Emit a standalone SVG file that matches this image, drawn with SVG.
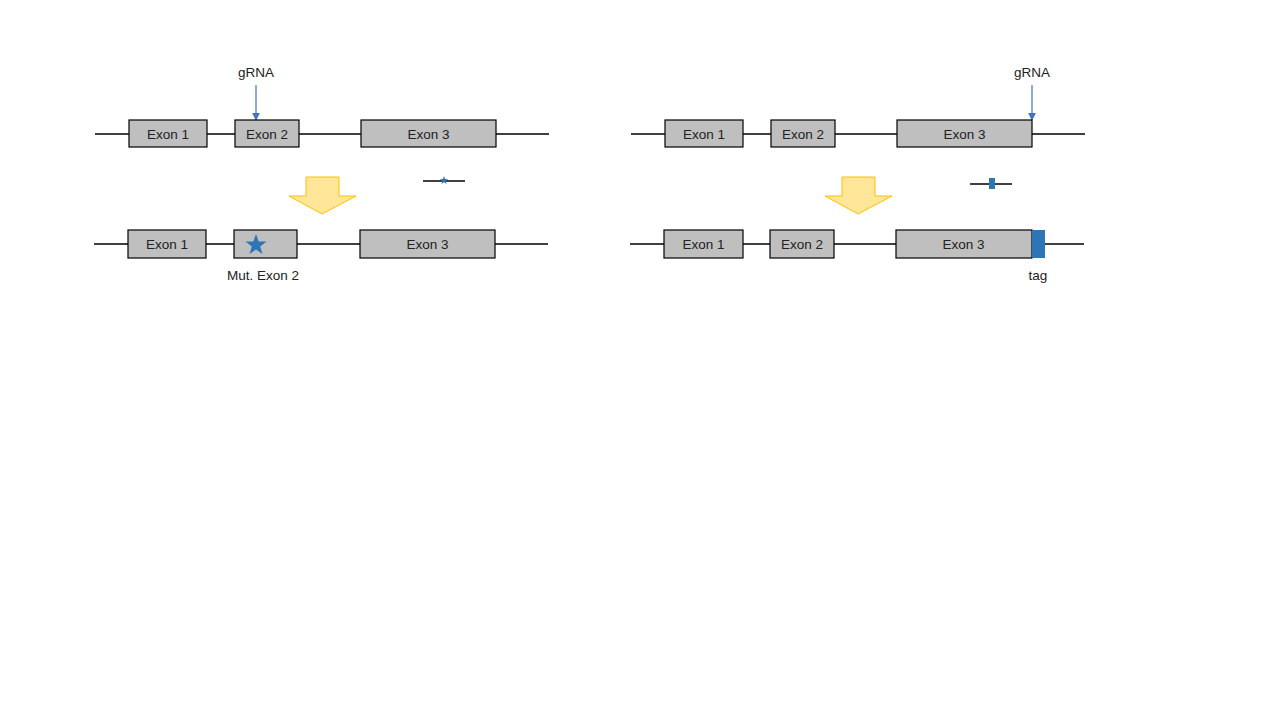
<svg xmlns="http://www.w3.org/2000/svg" width="1280" height="720" viewBox="0 0 1280 720">
<defs>
<style>
.line{stroke:#000;stroke-width:1.3;fill:none}
.exon{fill:#BFBFBF;stroke:#000;stroke-width:1.2}
.lbl{font-family:"Liberation Sans",Arial,sans-serif;font-size:13.5px;fill:#222;text-anchor:middle}
.big{fill:#FFE699;stroke:#FFC000;stroke-width:1}
.blue{fill:#2E75B6}
.g{stroke:#4472C4;stroke-width:1.2}
</style>
<marker id="ah" viewBox="0 0 10 10" refX="9" refY="5" markerWidth="8" markerHeight="8" orient="auto" markerUnits="userSpaceOnUse">
<path d="M0,0 L10,5 L0,10 z" fill="#4472C4"/>
</marker>
<polygon id="star" points="0,-11 2.6,-3.6 10.5,-3.4 4.2,1.4 6.5,9 0,4.5 -6.5,9 -4.2,1.4 -10.5,-3.4 -2.6,-3.6"/>
</defs>
<rect width="1280" height="720" fill="#fff"/>
<g id="connectors">
<line class="line" x1="95" y1="134" x2="549" y2="134"/>
<line class="line" x1="94" y1="244" x2="548" y2="244"/>
<line class="line" x1="631" y1="134" x2="1085" y2="134"/>
<line class="line" x1="630" y1="244" x2="1084" y2="244"/>
<line class="g" x1="256" y1="85" x2="256" y2="120" marker-end="url(#ah)"/>
<line class="g" x1="1032" y1="85" x2="1032" y2="120" marker-end="url(#ah)"/>
</g>
<g id="left-top">
<g id="l-exon1"><rect class="exon" x="129" y="120" width="78" height="27"/><text class="lbl" x="168" y="138.5">Exon 1</text></g>
<g id="l-exon2"><rect class="exon" x="235" y="120" width="64" height="27"/><text class="lbl" x="267" y="138.5">Exon 2</text></g>
<g id="l-exon3"><rect class="exon" x="361" y="120" width="135" height="27"/><text class="lbl" x="428.5" y="138.5">Exon 3</text></g>
<text id="l-grna" class="lbl" x="256" y="77">gRNA</text>
</g>
<g id="l-donor">
<line class="line" x1="423" y1="181" x2="465" y2="181"/>
<use href="#star" class="blue" transform="translate(444,180.5) scale(0.4)"/>
</g>
<g id="l-arrow"><polygon class="big" points="306,177 339,177 339,196 356,196 322,214 289,196 306,196"/></g>
<g id="left-bottom">
<g id="lb-exon1"><rect class="exon" x="128" y="230" width="78" height="28"/><text class="lbl" x="167" y="249">Exon 1</text></g>
<g id="lb-exon2"><rect class="exon" x="234" y="230" width="63" height="28"/><use href="#star" class="blue" transform="translate(256,245)"/></g>
<g id="lb-exon3"><rect class="exon" x="360" y="230" width="135" height="28"/><text class="lbl" x="427.5" y="249">Exon 3</text></g>
<text id="mut-label" class="lbl" x="263" y="280">Mut. Exon 2</text>
</g>
<g id="right-top">
<g id="r-exon1"><rect class="exon" x="665" y="120" width="78" height="27"/><text class="lbl" x="704" y="138.5">Exon 1</text></g>
<g id="r-exon2"><rect class="exon" x="771" y="120" width="64" height="27"/><text class="lbl" x="803" y="138.5">Exon 2</text></g>
<g id="r-exon3"><rect class="exon" x="897" y="120" width="135" height="27"/><text class="lbl" x="964.5" y="138.5">Exon 3</text></g>
<text id="r-grna" class="lbl" x="1032" y="77">gRNA</text>
</g>
<g id="r-donor">
<line class="line" x1="970" y1="184" x2="1012" y2="184"/>
<rect class="blue" x="989" y="178" width="6" height="11"/>
</g>
<g id="r-arrow"><polygon class="big" points="842,177 875,177 875,196 892,196 858,214 825,196 842,196"/></g>
<g id="right-bottom">
<g id="rb-exon1"><rect class="exon" x="664" y="230" width="79" height="28"/><text class="lbl" x="703.5" y="249">Exon 1</text></g>
<g id="rb-exon2"><rect class="exon" x="770" y="230" width="64" height="28"/><text class="lbl" x="802" y="249">Exon 2</text></g>
<g id="rb-exon3"><rect class="exon" x="896" y="230" width="136" height="28"/><text class="lbl" x="963.5" y="249">Exon 3</text></g>
<g id="rb-tag"><rect class="blue" x="1032" y="230" width="13" height="28"/><text class="lbl" x="1038" y="280">tag</text></g>
</g>
</svg>
